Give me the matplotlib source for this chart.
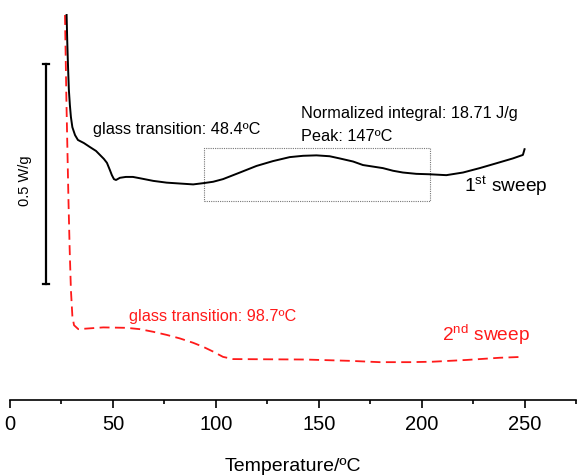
import numpy as np
import matplotlib.pyplot as plt
from matplotlib.ticker import MultipleLocator

plt.rcParams['font.family'] = ['Liberation Sans', 'DejaVu Sans']
plt.rcParams['mathtext.fontset'] = 'custom'
plt.rcParams['mathtext.rm'] = 'Liberation Sans'
plt.rcParams['mathtext.it'] = 'Liberation Sans'

# 1st sweep (black), temperature in C, heat flow in W/g (arbitrary offset)
t1 = [27.5, 27.8, 28.2, 28.6, 29.1, 29.6, 30.3, 31.6, 33.0, 35.9, 38.8, 41.8,
      43.7, 45.6, 47.1, 48.5, 49.5, 50.5, 51.5, 53.4, 56.3, 59.7, 63.1, 69.6,
      76.1, 82.5, 89.0, 94.2, 98.7, 103.5, 111.7, 119.8, 127.8, 135.9, 142.4,
      148.9, 155.3, 160.2, 166.7, 171.5, 181.2, 186.1, 190.9, 197.4, 203.9,
      212.0, 220.1, 228.2, 236.3, 244.3, 249.2, 250.0]
q1 = [0.875, 0.818, 0.757, 0.705, 0.670, 0.643, 0.620, 0.602, 0.591, 0.584,
      0.575, 0.566, 0.557, 0.548, 0.539, 0.523, 0.511, 0.502, 0.500, 0.505,
      0.507, 0.507, 0.504, 0.498, 0.494, 0.492, 0.490, 0.493, 0.496, 0.502,
      0.517, 0.532, 0.543, 0.552, 0.555, 0.556, 0.554, 0.549, 0.542, 0.534,
      0.527, 0.521, 0.517, 0.514, 0.513, 0.511, 0.517, 0.527, 0.538, 0.549,
      0.557, 0.570]

# 2nd sweep (red dashed)
t2 = [26.7, 27.0, 27.4, 27.9, 28.4, 29.0, 29.6, 30.3, 31.1, 33.2, 45.3, 56.7,
      63.1, 69.6, 76.1, 82.5, 89.0, 93.8, 98.7, 103.5, 108.4, 143.2, 165.1,
      179.6, 194.2, 205.3, 221.8, 237.9, 249.0]
q2 = [0.875, 0.795, 0.682, 0.568, 0.455, 0.341, 0.250, 0.191, 0.170, 0.161,
      0.165, 0.164, 0.161, 0.155, 0.148, 0.140, 0.130, 0.121, 0.110, 0.098,
      0.093, 0.092, 0.089, 0.086, 0.086, 0.087, 0.091, 0.096, 0.098]

# integration window and scale bar
box_t = [94.2, 203.9]
box_q = [0.452, 0.572]
bar_t = 17.3
bar_q = [0.2636, 0.7636]

fig = plt.figure(figsize=(5.79, 4.76), dpi=100)
ax = fig.add_axes([10/579, 1 - 400/476, 566/579, 400/476])

ax.plot(t2, q2, color='#ff1a1a', lw=1.3, ls=(0, (5.5, 3.0)), zorder=2)
ax.plot(t1, q1, color='black', lw=1.4, zorder=3)

ax.add_patch(plt.Rectangle((box_t[0], box_q[0]), box_t[1] - box_t[0],
                           box_q[1] - box_q[0], fill=False, ec='#777777',
                           lw=0.8, ls=(0, (1, 1))))

# scale bar
ax.plot([bar_t, bar_t], bar_q, color='black', lw=1.6)
for q in bar_q:
    ax.plot([bar_t - 1.5, bar_t + 1.5], [q, q], color='black', lw=1.6)
ax.text(7.5, 0.499, '0.5 W/g', rotation=90, ha='center', va='center',
        fontsize=10.5)

ax.text(40.1, 0.614, 'glass transition: 48.4ºC', fontsize=11.7,
        ha='left', va='center')
ax.text(141.6, 0.652, 'Normalized integral: 18.71 J/g', fontsize=11.7,
        ha='left', va='center')
ax.text(141.6, 0.598, 'Peak: 147ºC', fontsize=11.7, ha='left', va='center')
ax.text(220.4, 0.4734, r'1$^{\mathrm{st}}$ sweep', fontsize=13.8,
        ha='left', va='baseline')
ax.text(57.9, 0.189, 'glass transition: 98.7ºC', fontsize=11.7,
        color='#ff1a1a', ha='left', va='center')
ax.text(210.0, 0.134, r'2$^{\mathrm{nd}}$ sweep', fontsize=13.8,
        color='#ff1a1a', ha='left', va='baseline')

ax.set_xlim(0, 275)
ax.set_ylim(0, 400/440)
for s in ['left', 'right', 'top']:
    ax.spines[s].set_visible(False)
ax.spines['bottom'].set_linewidth(1.2)
ax.set_yticks([])
ax.xaxis.set_major_locator(MultipleLocator(50))
ax.xaxis.set_minor_locator(MultipleLocator(25))
ax.set_xticks([0, 50, 100, 150, 200, 250])
ax.tick_params(axis='x', which='major', direction='out', length=5.8,
               width=1.2, labelsize=14.5, pad=5)
ax.tick_params(axis='x', which='minor', direction='out', length=2.9,
               width=1.2)
ax.set_xlabel('Temperature/ºC', fontsize=14, labelpad=17)

fig.savefig('out.png', dpi=100)
